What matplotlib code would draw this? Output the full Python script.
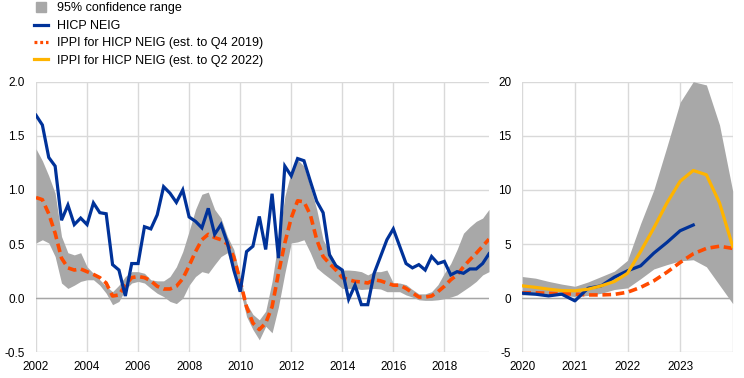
import numpy as np
import matplotlib
matplotlib.use("Agg")
import matplotlib.pyplot as plt
from matplotlib.lines import Line2D

plt.rcParams['font.family'] = ['Liberation Sans', 'DejaVu Sans']

# ---------------- data ----------------
# Left panel: quarterly, 2002 Q1 .. 2019 Q4 (y-o-y % change)
left_start_year = 2002
hicp_neig_left = [
    1.69, 1.60, 1.30, 1.22, 0.72, 0.86, 0.68, 0.74, 0.68, 0.88, 0.79, 0.78, 0.31,
    0.26, 0.02, 0.32, 0.32, 0.66, 0.64, 0.77, 1.03, 0.97, 0.885, 1.00, 0.75,
    0.71, 0.65, 0.83, 0.59, 0.68, 0.51, 0.26, 0.06, 0.43, 0.48, 0.755, 0.45,
    0.965, 0.37, 1.22, 1.13, 1.29, 1.27, 1.08, 0.895, 0.79, 0.40, 0.30, 0.26,
    -0.01, 0.12, -0.06, -0.06, 0.23, 0.385, 0.54, 0.64, 0.48, 0.32, 0.28, 0.31,
    0.26, 0.385, 0.32, 0.34, 0.215, 0.245, 0.23, 0.27, 0.27, 0.32, 0.41]
ippi_q4_2019_left = [
    0.93, 0.91, 0.78, 0.60, 0.37, 0.28, 0.26, 0.27, 0.245, 0.22, 0.19, 0.14, 0.02,
    0.03, 0.12, 0.19, 0.20, 0.19, 0.16, 0.11, 0.085, 0.085, 0.11, 0.18, 0.30,
    0.43, 0.54, 0.59, 0.56, 0.54, 0.50, 0.38, 0.16, -0.08, -0.23, -0.29, -0.23,
    -0.08, 0.23, 0.51, 0.74, 0.90, 0.89, 0.77, 0.54, 0.385, 0.32, 0.26, 0.19,
    0.17, 0.155, 0.15, 0.14, 0.17, 0.16, 0.14, 0.12, 0.12, 0.09, 0.05, 0.01,
    0.01, 0.02, 0.06, 0.11, 0.17, 0.215, 0.29, 0.355, 0.415, 0.48, 0.545]
ci_upper_left = [
    1.38, 1.27, 1.13, 0.97, 0.57, 0.42, 0.40, 0.42, 0.29, 0.23, 0.17, 0.11, 0.06,
    0.12, 0.20, 0.245, 0.245, 0.23, 0.17, 0.16, 0.16, 0.20, 0.29, 0.43, 0.62,
    0.82, 0.96, 0.98, 0.82, 0.74, 0.57, 0.45, 0.20, -0.05, -0.15, -0.20, -0.12,
    0.155, 0.54, 0.94, 1.17, 1.28, 1.22, 1.03, 0.82, 0.54, 0.43, 0.32, 0.26,
    0.26, 0.255, 0.245, 0.215, 0.245, 0.245, 0.26, 0.14, 0.14, 0.125, 0.08, 0.04,
    0.04, 0.06, 0.125, 0.23, 0.32, 0.45, 0.60, 0.66, 0.71, 0.74, 0.82]
ci_lower_left = [
    0.51, 0.54, 0.51, 0.385, 0.14, 0.09, 0.12, 0.155, 0.17, 0.17, 0.12, 0.045, -0.06,
    -0.03, 0.08, 0.14, 0.155, 0.14, 0.09, 0.045, 0.015, -0.03, -0.05, 0.0, 0.12,
    0.20, 0.245, 0.23, 0.31, 0.385, 0.42, 0.23, 0.08, -0.17, -0.29, -0.385, -0.26,
    -0.32, -0.08, 0.23, 0.51, 0.52, 0.54, 0.42, 0.28, 0.23, 0.185, 0.14, 0.09,
    0.09, 0.09, 0.08, 0.085, 0.09, 0.085, 0.06, 0.06, 0.06, 0.03, 0.01, -0.015,
    -0.02, -0.02, -0.015, -0.005, 0.01, 0.03, 0.07, 0.11, 0.155, 0.215, 0.245]

# Right panel: quarterly, 2019 Q4 .. 2023 Q4 (plotted at quarter end)
right_start_year = 2020
hicp_neig_right = [0.46, 0.37, 0.21, 0.37, -0.25, 0.92, 1.14, 1.94, 2.53, 2.99,
                   4.16, 5.15, 6.23, 6.76, np.nan, np.nan, np.nan]
ippi_q4_2019_right = [0.5, 0.5, 0.45, 0.42, 0.38, 0.3, 0.3, 0.35, 0.55, 1.0,
                      1.6, 2.4, 3.3, 4.1, 4.6, 4.8, 4.6]
ippi_q2_2022_right = [1.14, 1.0, 0.83, 0.7, 0.68, 0.83, 1.14, 1.54, 2.3, 4.32,
                      6.48, 8.8, 10.8, 11.8, 11.4, 8.8, 4.78]
ci_upper_right = [2.0, 1.85, 1.55, 1.3, 1.1, 1.5, 2.0, 2.5, 3.5, 6.9,
                  10.0, 14.0, 18.1, 20.0, 19.7, 16.0, 9.9]
ci_lower_right = [0.3, 0.3, 0.3, 0.25, 0.15, 0.25, 0.45, 0.8, 0.95, 1.8,
                  2.7, 3.1, 3.45, 3.55, 2.9, 1.2, -0.5]

left_ticks = [2002, 2004, 2006, 2008, 2010, 2012, 2014, 2016, 2018]
right_ticks = [2020, 2021, 2022, 2023, 2024]
right_ticklabels = ['2020', '2021', '2022', '2023', '']
left_yticks = [-0.5, 0.0, 0.5, 1.0, 1.5, 2.0]
right_yticks = [-5, 0, 5, 10, 15, 20]

labels = ['95% confidence range', 'HICP NEIG',
          'IPPI for HICP NEIG (est. to Q4 2019)',
          'IPPI for HICP NEIG (est. to Q2 2022)']

# ---------------- style ----------------
BLUE = '#003299'
ORANGE = '#FF4B00'
YELLOW = '#FFB400'
GREY = '#A8A8A8'
GRID = '#D9D9D9'
ZERO = '#A6A6A6'
LW = 2.3
DASH = (0, (2.4, 1.3))

xl = left_start_year + 0.25 * np.arange(len(hicp_neig_left))
xr = right_start_year + 0.25 * np.arange(len(hicp_neig_right))

fig = plt.figure(figsize=(7.44, 3.78), dpi=100)
ax1 = fig.add_axes([36 / 744, 1 - 352.3 / 378, 453 / 744, 270.6 / 378])
ax2 = fig.add_axes([522.3 / 744, 1 - 352.3 / 378, 210.4 / 744, 270.6 / 378])


def style(ax, xlim, ylim, xticks, xticklabels, yticks, yfmt):
    ax.set_xlim(*xlim)
    ax.set_ylim(*ylim)
    ax.set_xticks(xticks)
    ax.set_xticklabels(xticklabels)
    ax.set_yticks(yticks)
    ax.set_yticklabels([yfmt(v) for v in yticks])
    for s in ax.spines.values():
        s.set_visible(False)
    ax.grid(True, color=GRID, lw=1.0, zorder=0)
    ax.set_axisbelow(True)
    ax.tick_params(length=0, labelsize=8.5, colors='#000000')
    ax.tick_params(axis='y', pad=8)
    ax.tick_params(axis='x', pad=6)
    ax.axhline(0, color=ZERO, lw=1.0, zorder=1)


# Left panel
ax1.fill_between(xl, ci_lower_left, ci_upper_left, color=GREY, lw=0, zorder=2)
ax1.plot(xl, ippi_q4_2019_left, color=ORANGE, lw=LW + 0.3, ls=DASH, zorder=3)
ax1.plot(xl, hicp_neig_left, color=BLUE, lw=LW, zorder=4, solid_joinstyle='miter')
style(ax1, (2002, 2019.75), (-0.5, 2.0), left_ticks, [str(t) for t in left_ticks],
      left_yticks, lambda v: f'{v:.1f}')

# Right panel
ax2.fill_between(xr, ci_lower_right, ci_upper_right, color=GREY, lw=0, zorder=2)
ax2.plot(xr, ippi_q4_2019_right, color=ORANGE, lw=LW + 0.3, ls=DASH, zorder=3)
ax2.plot(xr, hicp_neig_right, color=BLUE, lw=LW, zorder=4)
ax2.plot(xr, ippi_q2_2022_right, color=YELLOW, lw=LW, zorder=5)
style(ax2, (2020, 2024), (-5, 20), right_ticks, right_ticklabels,
      right_yticks, lambda v: f'{v:d}')

# Legend
handles = [
    Line2D([], [], marker='s', ls='none', color=GREY, markersize=7.5),
    Line2D([], [], color=BLUE, lw=LW),
    Line2D([], [], color=ORANGE, lw=LW, ls=(0, (0.9, 0.9))),
    Line2D([], [], color=YELLOW, lw=LW),
]
fig.legend(handles, labels, loc='upper left', bbox_to_anchor=(34 / 744, 1 - 2.5 / 378),
           frameon=False, fontsize=9, handlelength=1.1, handletextpad=0.75,
           labelspacing=0.43, borderaxespad=0, borderpad=0)

fig.savefig('out.png', dpi=100)
